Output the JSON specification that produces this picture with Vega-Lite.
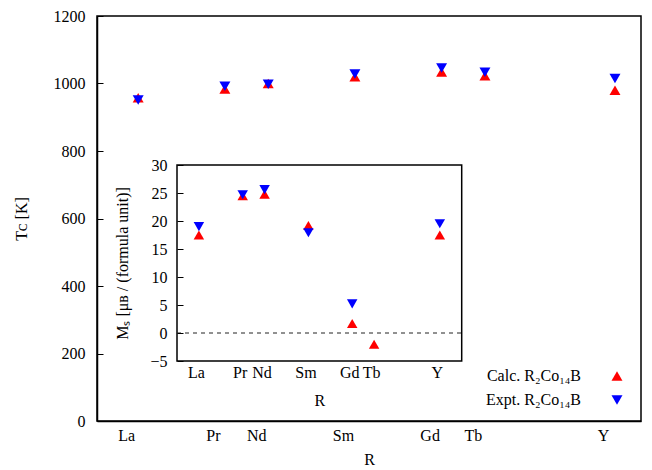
{
  "$schema": "https://vega.github.io/schema/vega-lite/v6.json",
  "width": 544,
  "height": 405,
  "autosize": {"type": "none"},
  "padding": {"left": 97, "top": 16, "right": 11, "bottom": 49},
  "background": "white",
  "config": {
    "font": "Liberation Serif",
    "view": {"stroke": "black", "strokeWidth": 1.5},
    "axis": {
      "labelFont": "Liberation Serif",
      "titleFont": "Liberation Serif",
      "labelFontSize": 16,
      "titleFontSize": 16,
      "titleFontWeight": "normal",
      "labelColor": "black",
      "titleColor": "black",
      "domainColor": "black",
      "tickColor": "black",
      "grid": false
    },
    "legend": {"labelFont": "Liberation Serif", "labelFontSize": 16, "labelColor": "black"}
  },
  "datasets": {
    "main": [
      {"R": "La", "pos": 57, "type": "Calc. R₂Co₁₄B", "Tc": 958},
      {"R": "Pr", "pos": 59, "type": "Calc. R₂Co₁₄B", "Tc": 984},
      {"R": "Nd", "pos": 60, "type": "Calc. R₂Co₁₄B", "Tc": 1000},
      {"R": "Sm", "pos": 62, "type": "Calc. R₂Co₁₄B", "Tc": 1020},
      {"R": "Gd", "pos": 64, "type": "Calc. R₂Co₁₄B", "Tc": 1034},
      {"R": "Tb", "pos": 65, "type": "Calc. R₂Co₁₄B", "Tc": 1023},
      {"R": "Y", "pos": 68, "type": "Calc. R₂Co₁₄B", "Tc": 980},
      {"R": "La", "pos": 57, "type": "Expt. R₂Co₁₄B", "Tc": 951},
      {"R": "Pr", "pos": 59, "type": "Expt. R₂Co₁₄B", "Tc": 992},
      {"R": "Nd", "pos": 60, "type": "Expt. R₂Co₁₄B", "Tc": 998},
      {"R": "Sm", "pos": 62, "type": "Expt. R₂Co₁₄B", "Tc": 1028},
      {"R": "Gd", "pos": 64, "type": "Expt. R₂Co₁₄B", "Tc": 1046},
      {"R": "Tb", "pos": 65, "type": "Expt. R₂Co₁₄B", "Tc": 1033},
      {"R": "Y", "pos": 68, "type": "Expt. R₂Co₁₄B", "Tc": 1015}
    ],
    "inset": [
      {"R": "La", "pos": 57, "type": "Calc. R₂Co₁₄B", "Ms": 17.5},
      {"R": "Pr", "pos": 59, "type": "Calc. R₂Co₁₄B", "Ms": 24.5},
      {"R": "Nd", "pos": 60, "type": "Calc. R₂Co₁₄B", "Ms": 24.8},
      {"R": "Sm", "pos": 62, "type": "Calc. R₂Co₁₄B", "Ms": 19.2},
      {"R": "Gd", "pos": 64, "type": "Calc. R₂Co₁₄B", "Ms": 1.7},
      {"R": "Tb", "pos": 65, "type": "Calc. R₂Co₁₄B", "Ms": -2.0},
      {"R": "Y", "pos": 68, "type": "Calc. R₂Co₁₄B", "Ms": 17.5},
      {"R": "La", "pos": 57, "type": "Expt. R₂Co₁₄B", "Ms": 19.0},
      {"R": "Pr", "pos": 59, "type": "Expt. R₂Co₁₄B", "Ms": 24.7},
      {"R": "Nd", "pos": 60, "type": "Expt. R₂Co₁₄B", "Ms": 25.6},
      {"R": "Sm", "pos": 62, "type": "Expt. R₂Co₁₄B", "Ms": 17.9},
      {"R": "Gd", "pos": 64, "type": "Expt. R₂Co₁₄B", "Ms": 5.2},
      {"R": "Y", "pos": 68, "type": "Expt. R₂Co₁₄B", "Ms": 19.5}
    ]
  },
  "layer": [
    {
      "data": {"name": "main"},
      "mark": {"type": "point", "filled": true, "size": 120, "opacity": 1},
      "encoding": {
        "x": {
          "field": "pos",
          "type": "quantitative",
          "scale": {"domain": [56.05, 68.6], "nice": false, "zero": false},
          "axis": {
            "orient": "bottom",
            "values": [57, 59, 60, 62, 64, 65, 68],
            "ticks": false,
            "domainWidth": 1.5,
            "labelExpr": "datum.value==57?'La':datum.value==59?'Pr':datum.value==60?'Nd':datum.value==62?'Sm':datum.value==64?'Gd':datum.value==65?'Tb':'Y'",
            "labelOffset": -12,
            "labelPadding": 6,
            "labelFlush": false,
            "labelOverlap": false,
            "title": "R",
            "titlePadding": 8
          }
        },
        "y": {
          "field": "Tc",
          "type": "quantitative",
          "scale": {"domain": [0, 1200], "nice": false},
          "axis": {
            "orient": "left",
            "values": [0, 200, 400, 600, 800, 1000, 1200],
            "format": "d",
            "tickSize": -6,
            "domainWidth": 1.5,
            "labelPadding": 18,
            "title": "Tᴄ [K]",
            "titlePadding": 24
          }
        },
        "color": {
          "field": "type",
          "type": "nominal",
          "scale": {"domain": ["Calc. R₂Co₁₄B", "Expt. R₂Co₁₄B"], "range": ["#ff0000", "#0000ff"]},
          "legend": {"orient": "none", "legendX": 512, "legendY": 352, "padding": 0, "title": null, "labelAlign": "right", "labelOffset": -44, "symbolSize": 120, "rowPadding": 8, "symbolStrokeWidth": 0}
        },
        "shape": {
          "field": "type",
          "type": "nominal",
          "scale": {"domain": ["Calc. R₂Co₁₄B", "Expt. R₂Co₁₄B"], "range": ["triangle-up", "triangle-down"]},
          "legend": {"orient": "none", "legendX": 512, "legendY": 352, "padding": 0, "title": null, "labelAlign": "right", "labelOffset": -44, "symbolSize": 120, "rowPadding": 8, "symbolStrokeWidth": 0}
        }
      }
    },
    {
      "data": {"values": [{}]},
      "mark": {"type": "rect", "fill": "transparent", "stroke": "black", "strokeWidth": 1.5},
      "encoding": {
        "x": {"datum": 56, "type": "quantitative", "axis": null, "scale": {"domain": [56, 69], "range": [80, 364.7], "nice": false, "zero": false}},
        "x2": {"datum": 69},
        "y": {"datum": -5, "type": "quantitative", "axis": null, "scale": {"domain": [-5, 30], "range": [345, 149], "nice": false, "zero": false}},
        "y2": {"datum": 30}
      }
    },
    {
      "data": {"values": [{}]},
      "mark": {"type": "rule", "strokeDash": [4, 4], "color": "#222222", "strokeWidth": 1},
      "encoding": {
        "x": {"datum": 56, "type": "quantitative", "axis": null, "scale": {"domain": [56, 69], "range": [80, 364.7], "nice": false, "zero": false}},
        "x2": {"datum": 69},
        "y": {"datum": 0, "type": "quantitative", "axis": null, "scale": {"domain": [-5, 30], "range": [345, 149], "nice": false, "zero": false}}
      }
    },
    {
      "data": {"name": "inset"},
      "mark": {"type": "point", "filled": true, "size": 110, "opacity": 1},
      "encoding": {
        "x": {
          "field": "pos",
          "type": "quantitative",
          "scale": {"domain": [56, 69], "range": [80, 364.7], "nice": false, "zero": false},
          "axis": {
            "orient": "bottom",
            "offset": -60,
            "zindex": 2,
            "domain": false,
            "ticks": false,
            "values": [57, 59, 60, 62, 64, 65, 68],
            "labelExpr": "datum.value==57?'La':datum.value==59?'Pr':datum.value==60?'Nd':datum.value==62?'Sm':datum.value==64?'Gd':datum.value==65?'Tb':'Y'",
            "labelOffset": -3,
            "labelPadding": 3,
            "labelFlush": false,
            "labelOverlap": false,
            "title": "R",
            "titlePadding": 12
          }
        },
        "y": {
          "field": "Ms",
          "type": "quantitative",
          "scale": {"domain": [-5, 30], "range": [345, 149], "nice": false, "zero": false},
          "axis": {
            "orient": "left",
            "offset": -80,
            "zindex": 2,
            "domain": false,
            "tickSize": -6,
            "values": [-5, 0, 5, 10, 15, 20, 25, 30],
            "labelPadding": 16,
            "title": "Mₛ [μʙ / (formula unit)]",
            "titlePadding": 19
          }
        },
        "color": {"field": "type", "type": "nominal", "legend": null},
        "shape": {"field": "type", "type": "nominal", "legend": null}
      }
    }
  ],
  "resolve": {
    "scale": {"x": "independent", "y": "independent"},
    "axis": {"x": "independent", "y": "independent"}
  }
}
